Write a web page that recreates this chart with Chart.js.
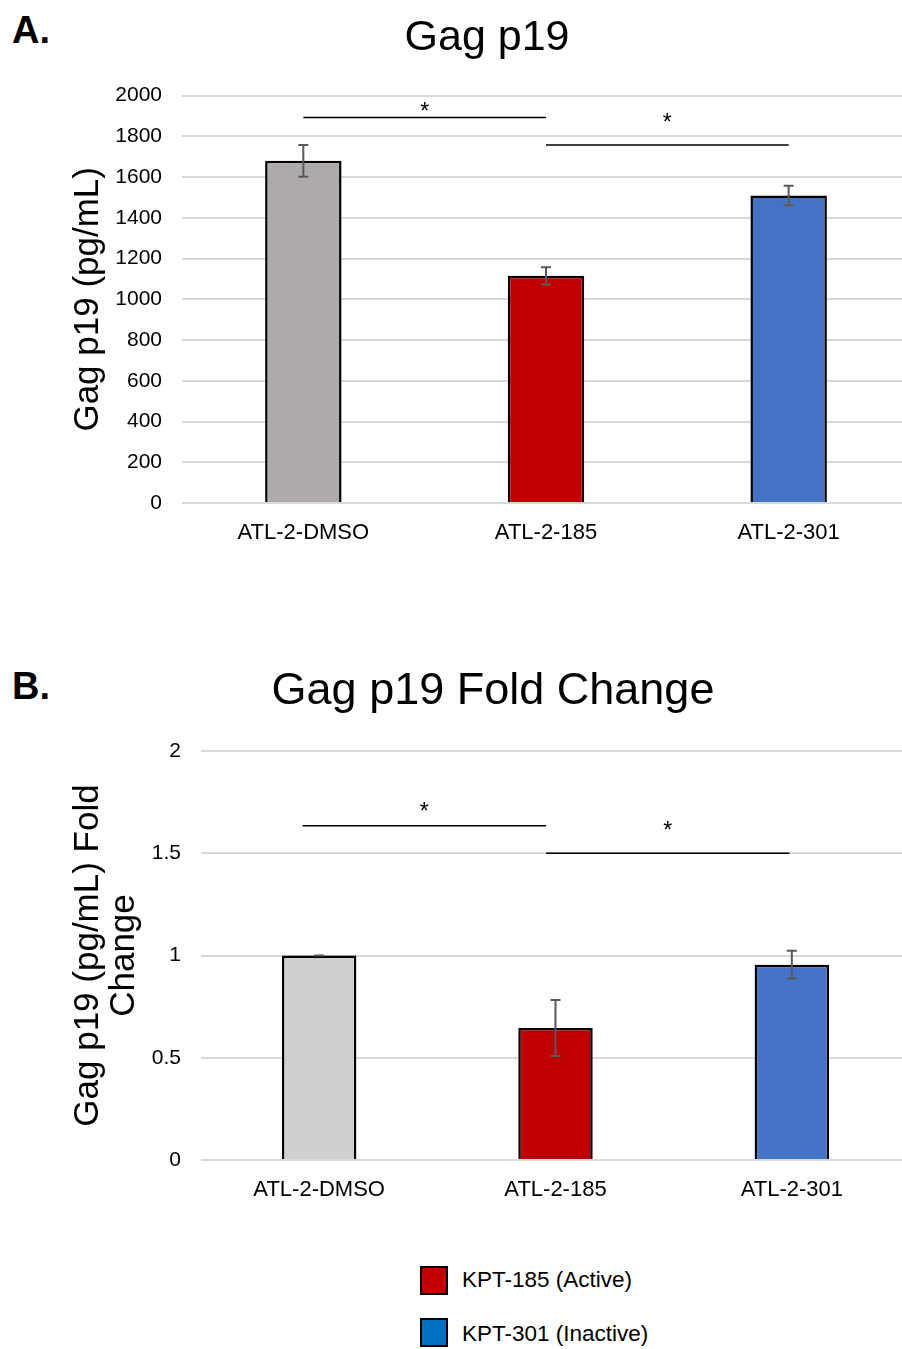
<!DOCTYPE html>
<html>
<head>
<meta charset="utf-8">
<script src="https://cdn.jsdelivr.net/npm/chart.js@4.4.1/dist/chart.umd.min.js"></script>
<style>
  body { margin: 0; width: 902px; height: 1349px; overflow: hidden; background: #fff; position: relative;
         font-family: "Liberation Sans", Arial, sans-serif; }
  .panel { position: absolute; left: 0; width: 912px; height: 560px; }
  .tag { position: absolute; left: 12px; font-weight: bold; font-size: 38px; line-height: 1; color: #000; }
  .key { position: absolute; left: 420px; width: 28px; height: 29px; border: 2px solid #000; box-sizing: border-box; }
  .keytxt { position: absolute; left: 462px; font-size: 22.5px; line-height: 1; color: #000; }
</style>
</head>
<body>
<div class="tag" style="top:11px">A.</div>
<div class="panel" style="top:0"><canvas id="chartA"></canvas></div>
<div class="tag" style="top:667px">B.</div>
<div class="panel" style="top:660px"><canvas id="chartB"></canvas></div>

<div class="key" style="top:1266px;background:#C00000"></div>
<div class="keytxt" style="top:1269px">KPT-185 (Active)</div>
<div class="key" style="top:1318px;background:#0070C0"></div>
<div class="keytxt" style="top:1323px">KPT-301 (Inactive)</div>

<script>
const categories = ['ATL-2-DMSO', 'ATL-2-185', 'ATL-2-301'];

// panel A: Gag p19 (pg/mL)
const gagValues = [1680, 1115, 1510];
const gagErrors = [78, 42, 48];
const gagTicks = ['0', '200', '400', '600', '800', '1000', '1200', '1400', '1600', '1800', '2000'];
const gagColors = ['#AEAAAA', '#C00000', '#4472C4'];
const gagBrackets = [
  { from: 0, to: 1, y: 1892, star: 1946 },
  { from: 1, to: 2, y: 1757, star: 1892 }
];

// panel B: fold change
const foldValues = [1.0, 0.645, 0.955];
const foldErrors = [0, 0.137, 0.068];
const foldTicks = ['0', '0.5', '1', '1.5', '2'];
const foldColors = ['#D0CECE', '#C00000', '#4472C4'];
const foldBrackets = [
  { from: -0.07, to: 0.96, y: 1.635, star: 1.728 },
  { from: 0.96, to: 1.99, y: 1.5, star: 1.635 }
];

const FONT = '"Liberation Sans", Arial, sans-serif';

// error bars + significance brackets, drawn through the chart scales
const extras = {
  id: 'extras',
  afterDatasetsDraw(chart) {
    const ctx = chart.ctx;
    const x = chart.scales.x, y = chart.scales.y;
    const ds = chart.data.datasets[0];
    const meta = chart.getDatasetMeta(0);
    ctx.save();
    ctx.strokeStyle = '#595959';
    ctx.lineWidth = 2;
    ds.errors.forEach((e, i) => {
      const px = meta.data[i].x;
      const top = y.getPixelForValue(ds.data[i] + e);
      const bot = y.getPixelForValue(ds.data[i] - e);
      ctx.beginPath();
      ctx.moveTo(px, top); ctx.lineTo(px, bot);
      ctx.moveTo(px - 5, top); ctx.lineTo(px + 5, top);
      ctx.moveTo(px - 5, bot); ctx.lineTo(px + 5, bot);
      ctx.stroke();
    });
    ctx.strokeStyle = '#000';
    ctx.lineWidth = 1.5;
    ctx.fillStyle = '#000';
    ctx.font = '23px ' + FONT;
    ctx.textAlign = 'center';
    ctx.textBaseline = 'alphabetic';
    const m = ctx.measureText('*');
    ds.brackets.forEach(b => {
      const x1 = x.getPixelForValue(b.from), x2 = x.getPixelForValue(b.to);
      const py = y.getPixelForValue(b.y);
      ctx.beginPath(); ctx.moveTo(x1, py); ctx.lineTo(x2, py); ctx.stroke();
      const sy = y.getPixelForValue(b.star);
      ctx.fillText('*', (x1 + x2) / 2, sy + (m.actualBoundingBoxAscent - m.actualBoundingBoxDescent) / 2);
    });
    ctx.restore();
  }
};

function makeChart(id, o) {
  return new Chart(document.getElementById(id), {
    type: 'bar',
    data: {
      labels: categories,
      datasets: [{
        data: o.values,
        errors: o.errors,
        brackets: o.brackets,
        backgroundColor: o.colors,
        borderColor: '#000',
        borderWidth: 2.5,
        barPercentage: 0.315,
        categoryPercentage: 1
      }]
    },
    options: {
      responsive: true,
      maintainAspectRatio: false,
      animation: false,
      layout: { padding: { left: o.padLeft, right: 2, top: 0, bottom: 0 } },
      plugins: {
        legend: { display: false },
        tooltip: { enabled: false },
        title: {
          display: true, text: o.title, color: '#000',
          font: { family: FONT, size: o.titleSize, weight: 'normal' },
          padding: o.titlePad
        }
      },
      scales: {
        x: {
          grid: { display: false, drawTicks: false },
          border: { display: false },
          ticks: { color: '#000', font: { family: FONT, size: 22 }, padding: 17 },
          afterFit: s => { s.height = o.xHeight; }
        },
        y: {
          min: 0, max: o.max,
          grid: { color: '#d9d9d9', lineWidth: 2, drawTicks: false },
          border: { display: false },
          ticks: {
            stepSize: o.step, padding: 20, color: '#000',
            font: { family: FONT, size: 21 },
            callback: (v, i) => o.ticks[i]
          },
          title: {
            display: true, text: o.yTitle, color: '#000',
            font: { family: FONT, size: 35, lineHeight: 1.03 },
            padding: { top: o.yTitlePad, bottom: 0 }
          },
          afterFit: s => { s.width = o.yWidth; }
        }
      }
    },
    plugins: [extras]
  });
}

makeChart('chartA', {
  values: gagValues, errors: gagErrors, brackets: gagBrackets, colors: gagColors,
  title: 'Gag p19', titleSize: 43, titlePad: { top: 12, bottom: 32 },
  yTitle: 'Gag p19 (pg/mL)', yTitlePad: 6, padLeft: 64, yWidth: 118,
  max: 2000, step: 200, ticks: gagTicks, xHeight: 57
});

makeChart('chartB', {
  values: foldValues, errors: foldErrors, brackets: foldBrackets, colors: foldColors,
  title: 'Gag p19 Fold Change', titleSize: 45, titlePad: { top: 5, bottom: 32 },
  yTitle: ['Gag p19 (pg/mL) Fold', 'Change'], yTitlePad: -6, padLeft: 76, yWidth: 125,
  max: 2, step: 0.5, ticks: foldTicks, xHeight: 60
});
</script>
</body>
</html>
